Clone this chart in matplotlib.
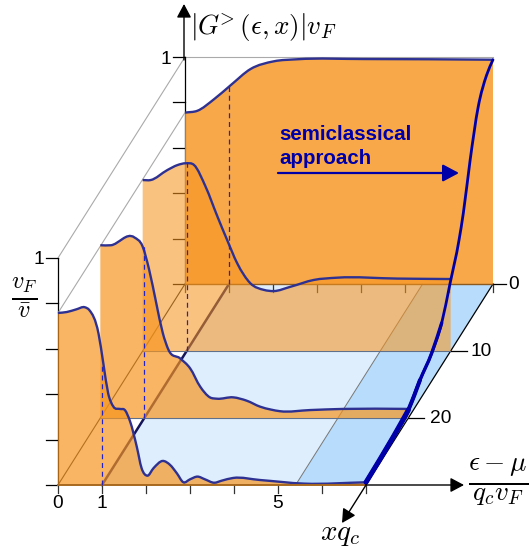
import matplotlib
matplotlib.use("Agg")
import matplotlib.pyplot as plt
from matplotlib.patches import PathPatch, Polygon
from matplotlib.path import Path
from matplotlib.transforms import Affine2D

plt.rcParams["font.family"] = ["Liberation Sans", "DejaVu Sans"]
plt.rcParams["mathtext.fontset"] = "cm"

# energy / amplitude
e_x0 = [0, .28, .66, 1.04, 1.49, 2.02, 2.55, 4.07, 7]
g_x0 = [.755, .763, .814, .876, .947, .981, .99, .991, .988]
e_x10 = [0, .18, .56, .79, .98, 1.17, 1.43, 1.7, 1.92, 2.15, 2.45, 2.76, 2.98, 3.36, 3.89, 4.42, 5.79, 7]
g_x10 = [.753, .753, .797, .819, .827, .819, .724, .592, .489, .386, .298, .269, .264, .283, .313, .323, .319, .317]
e_x20 = [0, .24, .77, .96, 1.11, 1.27, 1.42, 1.55, 1.81, 2.04, 2.27, 2.49, 2.65, 3.02, 3.33, 3.63, 3.88, 4.08, 4.77, 5.52, 7]
g_x20 = [.761, .761, .796, .756, .653, .507, .374, .3, .263, .219, .138, .091, .085, .091, .076, .05, .037, .03, .035, .04, .04]
e_x30 = [0, .2, .42, .61, .71, .92, 1.03, 1.14, 1.26, 1.41, 1.52, 1.64, 1.79, 1.9, 2.03, 2.17, 2.38, 2.55, 2.7, 2.85, 3, 3.17, 3.34, 3.55, 3.72, 3.98, 4.59, 5.6, 7]
g_x30 = [.758, .762, .774, .783, .771, .668, .536, .404, .345, .335, .33, .279, .169, .074, .041, .074, .106, .088, .052, .012, .025, .037, .025, .01, .019, .031, .022, .006, .012]
slices = [(0, e_x0, g_x0, .81), (10, e_x10, g_x10, .57), (20, e_x20, g_x20, .69), (30, e_x30, g_x30, .69)]

# the semiclassical curve along the edge e = 7
edge_x = [30, 23.55, 20, 17.24, 14.48, 12.12, 10.16, 8.03, 7, 5.4, 3.5, 1.5, 0]
edge_g = [.012, .022, .035, .086, .123, .186, .301, .43, .52, .705, .883, .965, .988]

e_ticks = [0, 1, 2, 3, 4, 5, 6, 7]
e_labels = ["0", "1", "", "", "", "5", "", ""]
g_ticks = [0, .2, .4, .6, .8, 1]
x_ticks = [0, 10, 20]
e_split = 5.4

DE, DG, SX, SY = 44, 227, 4.233, 6.7
X0, Y0 = 58, 485

fig = plt.figure(figsize=(5.31, 5.48), dpi=100)
ax = fig.add_axes([0, 0, 1, 1])
ax.set_xlim(0, 531)
ax.set_ylim(548, 0)
ax.axis("off")


def slice_tr(x):
    # (e, G) in the plane of fixed x
    return Affine2D(matrix=[[DE, 0, X0 + SX * (30 - x)], [0, -DG, Y0 - SY * (30 - x)], [0, 0, 1]]) + ax.transData


# (e, x) on the floor
floor_tr = Affine2D(matrix=[[DE, -SX, X0 + 30 * SX], [0, SY, Y0 - 30 * SY], [0, 0, 1]]) + ax.transData
# (x, G) along e = 7 and along e = 0
edge_tr = Affine2D(matrix=[[-SX, 0, X0 + 7 * DE + 30 * SX], [SY, -DG, Y0 - 30 * SY], [0, 0, 1]]) + ax.transData
side_tr = Affine2D(matrix=[[-SX, 0, X0 + 30 * SX], [SY, -DG, Y0 - 30 * SY], [0, 0, 1]]) + ax.transData


def smooth(xs, ys):
    # bezier through the read points, tangents weighted by spacing
    n = len(xs)
    d = [(ys[i + 1] - ys[i]) / (xs[i + 1] - xs[i]) for i in range(n - 1)]
    m = [d[0]]
    for i in range(1, n - 1):
        h0, h1 = xs[i] - xs[i - 1], xs[i + 1] - xs[i]
        m.append((h1 * d[i - 1] + h0 * d[i]) / (h0 + h1))
    m.append(d[-1])
    verts = [(xs[0], ys[0])]
    codes = [Path.MOVETO]
    for i in range(n - 1):
        h = xs[i + 1] - xs[i]
        verts += [(xs[i] + h / 3, ys[i] + m[i] * h / 3), (xs[i + 1] - h / 3, ys[i + 1] - m[i + 1] * h / 3), (xs[i + 1], ys[i + 1])]
        codes += [Path.CURVE4] * 3
    return verts, codes


def arrow(p0, p1, color="k", lw=1.0, scale=11, hw=0.4, z=30):
    ax.annotate("", xy=p1, xytext=p0, zorder=z,
                arrowprops=dict(arrowstyle=f"-|>,head_length=0.75,head_width={hw}", color=color, lw=lw,
                                mutation_scale=scale, shrinkA=0, shrinkB=0))


# floor
ax.add_patch(Polygon([(1, 0), (e_split, 0), (e_split, 30), (1, 30)], fc="#deeefd", ec="none", transform=floor_tr, zorder=1))
ax.add_patch(Polygon([(e_split, 0), (7, 0), (7, 30), (e_split, 30)], fc="#b8dcfb", ec="none", transform=floor_tr, zorder=1))
ax.plot([e_split, e_split], [0, 30], color="#777777", lw=0.7, transform=floor_tr, zorder=2)
ax.plot([0, 0], [0, 30], color="#222222", lw=0.8, transform=floor_tr, zorder=2)
ax.plot([1, 1], [0, 30], color="#14145a", lw=1.8, transform=floor_tr, zorder=2)
ax.plot([7, 7], [0, 30], color="k", lw=0.9, transform=floor_tr, zorder=2)

# frame lines behind the slices
for x in [10, 20]:
    ax.plot([0, 7], [0, 0], color="#60708a", lw=0.8, transform=slice_tr(x), zorder=2)
ax.plot([0, 0], [1, 0], color="k", lw=0.9, transform=slice_tr(0), zorder=2)
ax.plot([0, 0], [1, 0], color="k", lw=0.9, transform=slice_tr(30), zorder=2)
ax.plot([0, 7], [1, 1], color="#aaaaaa", lw=0.8, transform=slice_tr(0), zorder=2)
ax.plot([30, 0], [1, 1], color="#aaaaaa", lw=0.8, transform=side_tr, zorder=2)
ax.plot([30, 0], [g_x30[0], g_x0[0]], color="#aaaaaa", lw=0.8, transform=side_tr, zorder=2)
for x in [0, 30]:
    for g in g_ticks:
        ax.plot([-.28, 0], [g, g], color="k", lw=0.9, transform=slice_tr(x), zorder=2)
    for e in e_ticks:
        ax.plot([e, e], [0, -.036], color="#333333", lw=0.9, transform=slice_tr(x), zorder=2)

# slices, back to front
for i, (x, es, gs, alpha) in enumerate(slices):
    tr = slice_tr(x)
    z = 5 + i * 3
    verts, codes = smooth(es, gs)
    ax.add_patch(PathPatch(Path(verts + [(es[-1], 0), (es[0], 0), (es[0], gs[0])],
                                codes + [Path.LINETO, Path.LINETO, Path.CLOSEPOLY]),
                           fc="#f7941e", alpha=alpha, ec="none", transform=tr, zorder=z))
    ax.add_patch(PathPatch(Path(verts, codes), fc="none", ec="#2e3192", lw=1.7, transform=tr, zorder=z + 1))
    # dashed drop line at e = 1, above the fills
    top = gs[es.index(min(es, key=lambda v: abs(v - 1)))]
    ax.plot([1, 1], [0, top], color="#2424c0", lw=0.9, ls=(0, (4, 3)), transform=tr, zorder=20, snap=True)

# brown baselines in front of the fills
ax.plot([0, 7], [0, 0], color="#8a5a20", lw=1.0, transform=slice_tr(0), zorder=7)
ax.plot([0, 7], [0, 0], color="#a8691f", lw=1.4, transform=slice_tr(30), zorder=16)

# semiclassical edge curve, thicker towards the front
for n, w in [(len(edge_x), 2.0), (6, 2.4), (4, 2.9), (3, 3.6)]:
    verts, codes = smooth(edge_x[:n], edge_g[:n])
    ax.add_patch(PathPatch(Path(verts, codes), fc="none", ec="#0000a8", lw=w, transform=edge_tr, zorder=25, capstyle="round"))

# axes arrows
arrow((184, 60), (184, 4))
arrow((366, 485), (464, 485))
arrow((366, 485), (342, 523))
arrow((278, 173), (459, 173), color="#0000a8", lw=1.6, scale=13)

# right hand ticks
for x, x1, xt, yt in zip(x_ticks, [506, 467, 424], [508, 470, 430], [284, 351, 418]):
    ax.plot([7, (x1 - 58 - SX * (30 - x)) / DE], [0, 0], color="k", lw=0.9, transform=slice_tr(x), zorder=26)
    ax.text(xt, yt + 0.5, str(x), fontsize=13.8, ha="left", va="center", zorder=30)

for e, lab in zip(e_ticks, e_labels):
    if lab:
        ax.text(X0 + DE * e, 504, lab, fontsize=13.8, ha="center", va="center", zorder=30)
ax.text(44, 259, "1", fontsize=13.8, ha="right", va="center", zorder=30)
ax.text(171, 60, "1", fontsize=13.8, ha="right", va="center", zorder=30)

ax.text(190, 28, r"$|G^{\!\!>}(\epsilon,x)|v_F$", fontsize=19.5, ha="left", va="center", zorder=30)
ax.text(24, 298, r"$\frac{v_F}{\bar{v}}$", fontsize=25, ha="center", va="center", zorder=30)
ax.text(498, 482, r"$\frac{\epsilon-\mu}{q_c v_F}$", fontsize=28, ha="center", va="center", zorder=30)
ax.text(340, 540, r"$xq_c$", fontsize=21, ha="center", va="baseline", zorder=30)
ax.text(279, 135, "semiclassical", color="#0000a8", fontsize=14.8, fontweight="bold", va="center", zorder=30)
ax.text(279, 159, "approach", color="#0000a8", fontsize=14.8, fontweight="bold", va="center", zorder=30)

fig.savefig("out.png", dpi=100)
